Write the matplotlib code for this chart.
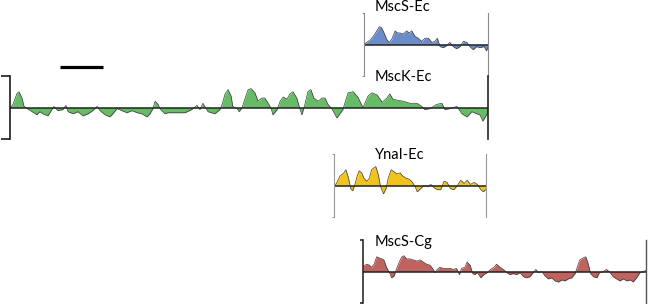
import matplotlib.pyplot as plt

plt.rcParams['font.family'] = ['Lato', 'DejaVu Sans']

# hydropathy profiles (residue number, score)
mscs_ec_res = [0, 6, 14, 22, 30, 36, 41, 47, 53, 59, 65, 73, 78, 84, 92, 100, 106, 112, 119, 127,
               135, 143, 151, 159, 166, 172, 178, 186, 194, 201, 209, 217, 225, 233, 241, 248, 256,
               264, 272, 281, 287, 290]
mscs_ec_val = [0, 0.2, 0.4, 0.8, 1.3, 1.7, 1.6, 1.1, 0.5, 0.2, 0.5, 1.3, 1.1, 1.1, 1.0, 1.3, 1.1, 1.3,
               0.8, 0.6, 0.3, 0.6, 0.6, 0.2, 0.3, 0.6, -0.2, -0.3, -0.1, 0.2, -0.2, -0.4, -0.2, 0.3,
               0.2, -0.2, -0.5, -0.2, -0.3, -0.2, -0.6, -0.3]

msck_ec_res = [0, 7, 16, 21, 28, 33, 40, 52, 63, 70, 77, 89, 98, 103, 112, 124, 131, 136, 148, 159,
               171, 183, 194, 204, 211, 223, 234, 241, 251, 262, 274, 286, 298, 309, 321, 328, 335,
               340, 347, 351, 363, 370, 387, 410, 426, 438, 445, 452, 464, 480, 492, 497, 504, 511,
               518, 522, 532, 537, 544, 551, 558, 565, 574, 581, 590, 597, 605, 612, 616, 626, 633,
               640, 649, 656, 663, 672, 679, 684, 691, 698, 705, 712, 722, 731, 738, 745, 754, 766,
               780, 792, 804, 815, 827, 839, 848, 860, 872, 883, 890, 897, 907, 921, 937, 954, 965,
               972, 984, 1000, 1012, 1019, 1031, 1047, 1059, 1071, 1082, 1094, 1101, 1108, 1118, 1120]
msck_ec_val = [-0.1, 0.3, 1.3, 1.5, 0.9, 0.1, -0.1, -0.4, -0.7, -0.4, -0.6, -0.8, -0.2, 0.1, -0.3,
               -0.2, 0.2, -0.4, -0.6, -0.4, -0.8, -0.6, -0.3, 0.1, -0.3, -0.7, -0.9, -0.6, -0.1, -0.3,
               -0.5, -0.3, -0.5, -0.6, -0.9, -0.6, -0.1, 0.6, 0.3, -0.1, -0.6, -0.5, -0.5, -0.5, -0.2,
               0.2, -0.2, 0.4, -0.4, -0.6, -0.2, 0.3, 1.3, 1.7, 1.1, 0.1, -0.1, -0.4, 0.0, 0.9, 1.7,
               1.8, 1.4, 0.6, 0.9, 0.9, 0.4, -0.1, -0.7, -0.2, 0.6, 1.0, 0.8, 1.3, 1.5, 0.9, -0.1,
               -0.7, 0.3, 1.5, 1.7, 0.9, 0.6, 0.9, 0.9, 0.3, -0.1, -1.0, -0.2, 1.4, 1.5, 1.0, 0.0,
               1.1, 1.4, 1.2, 0.5, 0.9, 1.3, 0.8, 0.7, 0.6, 0.4, 0.4, 0.1, -0.2, -0.1, 0.3, 0.4, -0.2,
               -0.1, 0.1, -0.6, -0.9, -0.4, -0.6, -0.7, -1.3, -0.6, 0.0]

ynai_ec_res = [0, 6, 14, 23, 28, 34, 39, 44, 49, 55, 59, 65, 70, 77, 83, 88, 94, 98, 104, 109, 116,
               122, 127, 134, 141, 147, 155, 161, 169, 176, 182, 190, 195, 203, 211, 219, 227, 234,
               242, 250, 258, 265, 273, 281, 289, 297, 305, 312, 320, 328, 336, 344, 350, 355]
ynai_ec_val = [0, 0.2, 0.9, 1.2, 1.5, 0.7, -0.3, -0.5, 0.1, 1.0, 1.4, 1.2, 0.7, 0.4, 0.7, 1.5, 1.7,
               1.8, 1.0, -0.1, -0.8, -0.3, 0.7, 1.5, 1.3, 1.1, 1.2, 0.9, 0.7, 0.6, 0.4, -0.1, -0.6,
               -0.3, 0.0, -0.1, 0.1, -0.2, -0.4, -0.4, 0.4, 0.3, -0.3, -0.4, 0.0, 0.5, 0.2, 0.5, 0.1,
               0.3, 0.1, -0.4, -0.6, -0.4]

mscs_cg_res = [0, 9, 15, 20, 26, 32, 38, 44, 49, 55, 62, 67, 73, 79, 85, 91, 96, 102, 110, 118, 126,
               134, 141, 149, 157, 163, 169, 174, 180, 188, 196, 204, 212, 219, 226, 231, 239, 244,
               251, 257, 262, 268, 276, 283, 291, 299, 307, 313, 321, 329, 337, 344, 352, 360, 368,
               376, 383, 391, 399, 405, 411, 419, 426, 434, 442, 450, 458, 466, 473, 481, 489, 497,
               502, 508, 516, 522, 528, 533, 540, 548, 554, 563, 571, 579, 586, 594, 602, 610, 618,
               626, 633, 641, 649, 657, 663]
mscs_cg_val = [0.5, 0.7, 0.6, 0.4, 0.7, 1.4, 1.3, 1.2, 1.1, 0.4, -0.1, -0.6, -0.4, 0.3, 0.9, 1.4,
               1.5, 1.2, 1.2, 1.1, 1.0, 1.1, 0.9, 0.7, 0.6, 0.3, -0.1, 0.2, 0.4, 0.3, 0.3, 0.3, 0.2,
               0.3, -0.3, 0.3, 0.4, 0.9, 0.6, -0.2, -0.3, -0.1, -0.6, -0.3, -0.1, 0.2, 0.4, 0.7, 0.4,
               0.2, -0.1, -0.3, -0.2, -0.3, -0.1, -0.5, -0.6, -0.5, -0.1, 0.2, -0.1, 0.0, -0.4, -0.7,
               -0.6, -0.9, -1.0, -0.8, -0.9, -0.7, -0.6, -0.2, 0.4, 1.1, 1.3, 1.4, 0.7, -0.2, -0.5,
               -0.6, -0.1, 0.0, 0.2, -0.1, -0.5, -0.7, -0.9, -0.7, -0.9, -0.8, -1.0, -0.6, -0.1, 0.0,
               0.1]

names = ['MscS-Ec', 'MscK-Ec', 'YnaI-Ec', 'MscS-Cg']
lengths = [290, 1120, 355, 663]
residues = [mscs_ec_res, msck_ec_res, ynai_ec_res, mscs_cg_res]
values = [mscs_ec_val, msck_ec_val, ynai_ec_val, mscs_cg_val]
fill_colors = ['#6A8DC9', '#66BC66', '#F2C319', '#C0625D']

scale_bar_start = 117  # residues
scale_bar_len = 100

W, H = 650, 304
px_per_res = 478 / 1120
panel_h = 63
# left edge and top of each panel in pixels
panel_pos = [(364, 13), (10, 76), (334, 154), (363, 240)]
title_y = [7, 77.5, 155, 242]
left_style = [('#8c8c8c', 0.8, 1.5), ('#1a1a1a', 1.2, 6.5), ('#999999', 0.8, 1.5), ('#1a1a1a', 1.1, 2.5)]
right_style = [('#8c8c8c', 0.8), ('#222222', 1.2), ('#999999', 0.8), ('#555555', 1.0)]

fig = plt.figure(figsize=(W / 100, H / 100), dpi=100)

for i, name in enumerate(names):
    x0, top = panel_pos[i]
    ax = fig.add_axes([x0 / W, 1 - (top + panel_h) / H, lengths[i] * px_per_res / W, panel_h / H])
    ax.set_facecolor('none')
    ax.fill_between(residues[i], values[i], 0, color=fill_colors[i], lw=0)
    ax.plot(residues[i], values[i], color='#3a3a3a', lw=0.5)
    ax.axhline(0, color='#222222', lw=1.1)
    ax.set_xlim(0, lengths[i])
    ax.set_ylim(-3, 3)
    ax.set_xticks([])
    ax.set_yticks([-3, 3])
    ax.set_yticklabels([])
    ax.spines['top'].set_visible(False)
    ax.spines['bottom'].set_visible(False)
    lc, lw, tl = left_style[i]
    ax.spines['left'].set_color(lc)
    ax.spines['left'].set_linewidth(lw)
    ax.tick_params(axis='y', direction='out', length=tl, width=lw, color=lc)
    rc, rw = right_style[i]
    ax.spines['right'].set_color(rc)
    ax.spines['right'].set_linewidth(rw)
    fig.text(375 / W, 1 - title_y[i] / H, name, fontsize=10.5, va='center', ha='left')
    if name == 'MscK-Ec':
        ax.plot([scale_bar_start, scale_bar_start + scale_bar_len], [3.85, 3.85],
                color='black', lw=2.3, solid_capstyle='butt', clip_on=False)

fig.savefig('out.png', dpi=100)
